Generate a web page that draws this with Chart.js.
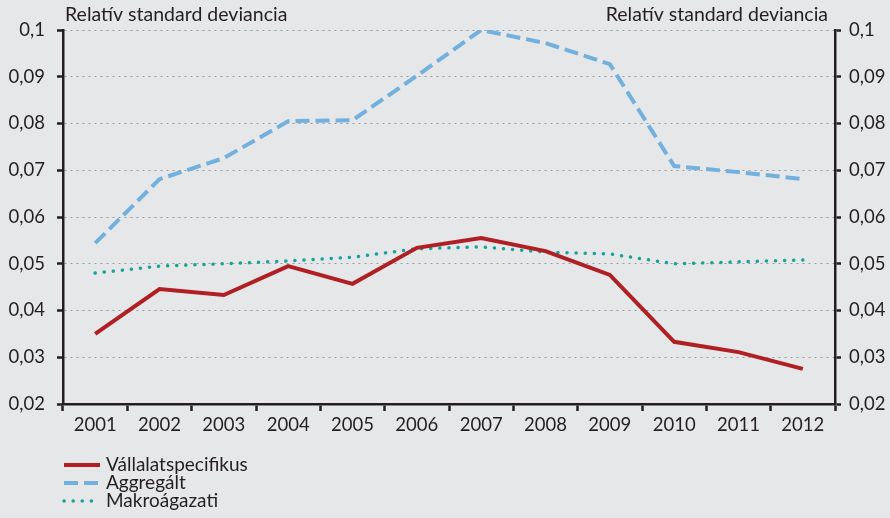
<!DOCTYPE html>
<html>
<head>
<meta charset="utf-8">
<script src="https://cdn.jsdelivr.net/npm/chart.js@4.4.0/dist/chart.umd.min.js"></script>
<style>
  html, body { margin: 0; padding: 0; background: #e6e7e9; }
  #wrap { width: 890px; height: 518px; }
</style>
</head>
<body>
<div id="wrap"><canvas id="chart" width="890" height="518"></canvas></div>
<script>
const years = ['2001','2002','2003','2004','2005','2006','2007','2008','2009','2010','2011','2012'];
const vallalati = [0.0350, 0.0446, 0.0433, 0.0495, 0.0457, 0.0534, 0.0555, 0.0527, 0.0476, 0.0333, 0.0311, 0.0275];
const aggregalt = [0.0544, 0.0681, 0.0726, 0.0805, 0.0807, 0.0902, 0.1000, 0.0972, 0.0927, 0.0709, 0.0696, 0.0681];
const makro = [0.0480, 0.0495, 0.0500, 0.0506, 0.0514, 0.0532, 0.0536, 0.0525, 0.0521, 0.0500, 0.0504, 0.0508];
const axisTitle = 'Relatív standard deviancia';

const FONT = 'Lato, "Open Sans", sans-serif';
const txt = '#231f20';

const extras = {
    id: 'extras',
    afterDraw(chart) {
        const c = chart.ctx;
        const area = chart.chartArea;
        c.save();
        c.font = '19.5px ' + FONT;
        c.fillStyle = txt;
        c.textBaseline = 'middle';
        c.textAlign = 'left';
        c.fillText(axisTitle, area.left + 2, 15);
        c.textAlign = 'right';
        c.fillText(axisTitle, area.right - 7, 15);

        // legend, one item per row
        c.font = '19px ' + FONT;
        chart.data.datasets.forEach(function(ds, i) {
            const y = 465 + i * 18;
            c.beginPath();
            c.strokeStyle = ds.borderColor;
            c.lineWidth = ds.borderWidth;
            c.lineCap = ds.borderCapStyle || 'butt';
            c.setLineDash(ds.borderDash || []);
            c.moveTo(64, y);
            c.lineTo(100, y);
            c.stroke();
            c.setLineDash([]);
            c.fillStyle = txt;
            c.textAlign = 'left';
            c.fillText(ds.label, 106, y);
        });
        c.restore();
    }
};

const ctx = document.getElementById('chart').getContext('2d');
new Chart(ctx, {
    type: 'line',
    data: {
        labels: years,
        datasets: [{
            label: 'Vállalatspecifikus',
            data: vallalati,
            borderColor: '#b01f24',
            borderWidth: 4,
            pointRadius: 0,
            tension: 0
        }, {
            label: 'Aggregált',
            data: aggregalt,
            borderColor: '#72b0de',
            borderWidth: 4,
            borderDash: [14, 6],
            pointRadius: 0,
            tension: 0
        }, {
            label: 'Makroágazati',
            data: makro,
            borderColor: '#17a398',
            borderWidth: 3.5,
            borderDash: [0.1, 9],
            borderCapStyle: 'round',
            pointRadius: 0,
            tension: 0
        }]
    },
    options: {
        responsive: false,
        animation: false,
        layout: { padding: { top: 30, bottom: 74, left: 0, right: 0 } },
        plugins: { legend: { display: false }, tooltip: { enabled: false } },
        scales: {
            x: {
                offset: true,
                grid: { offset: true, drawOnChartArea: false, tickLength: 7, tickColor: '#231f20', tickWidth: 2.5 },
                border: { color: '#231f20', width: 2.5 },
                ticks: { color: txt, font: { family: FONT, size: 18.5 }, padding: 3, maxRotation: 0 },
                afterFit(s) { s.height = 40; }
            },
            y: {
                position: 'left',
                min: 0.02, max: 0.1,
                grid: { color: '#9a9a9a', lineWidth: 1, tickLength: 6, tickColor: '#231f20', tickWidth: 2.5, tickBorderDash: [] },
                border: { color: '#231f20', width: 2.5, dash: [2, 4] },
                ticks: {
                    stepSize: 0.01, color: txt, font: { family: FONT, size: 18.5 }, padding: 12,
                    callback: function(v) { return Number(v.toFixed(2)).toString().replace('.', ','); }
                },
                afterFit(s) { s.width = 63; }
            },
            y2: {
                position: 'right',
                min: 0.02, max: 0.1,
                grid: { drawOnChartArea: false, tickLength: 6, tickColor: '#231f20', tickWidth: 2.5 },
                border: { color: '#231f20', width: 2.5 },
                ticks: {
                    stepSize: 0.01, color: txt, font: { family: FONT, size: 18.5 }, padding: 8,
                    callback: function(v) { return Number(v.toFixed(2)).toString().replace('.', ','); }
                },
                afterFit(s) { s.width = 55; }
            }
        }
    },
    plugins: [extras]
});
</script>
</body>
</html>
